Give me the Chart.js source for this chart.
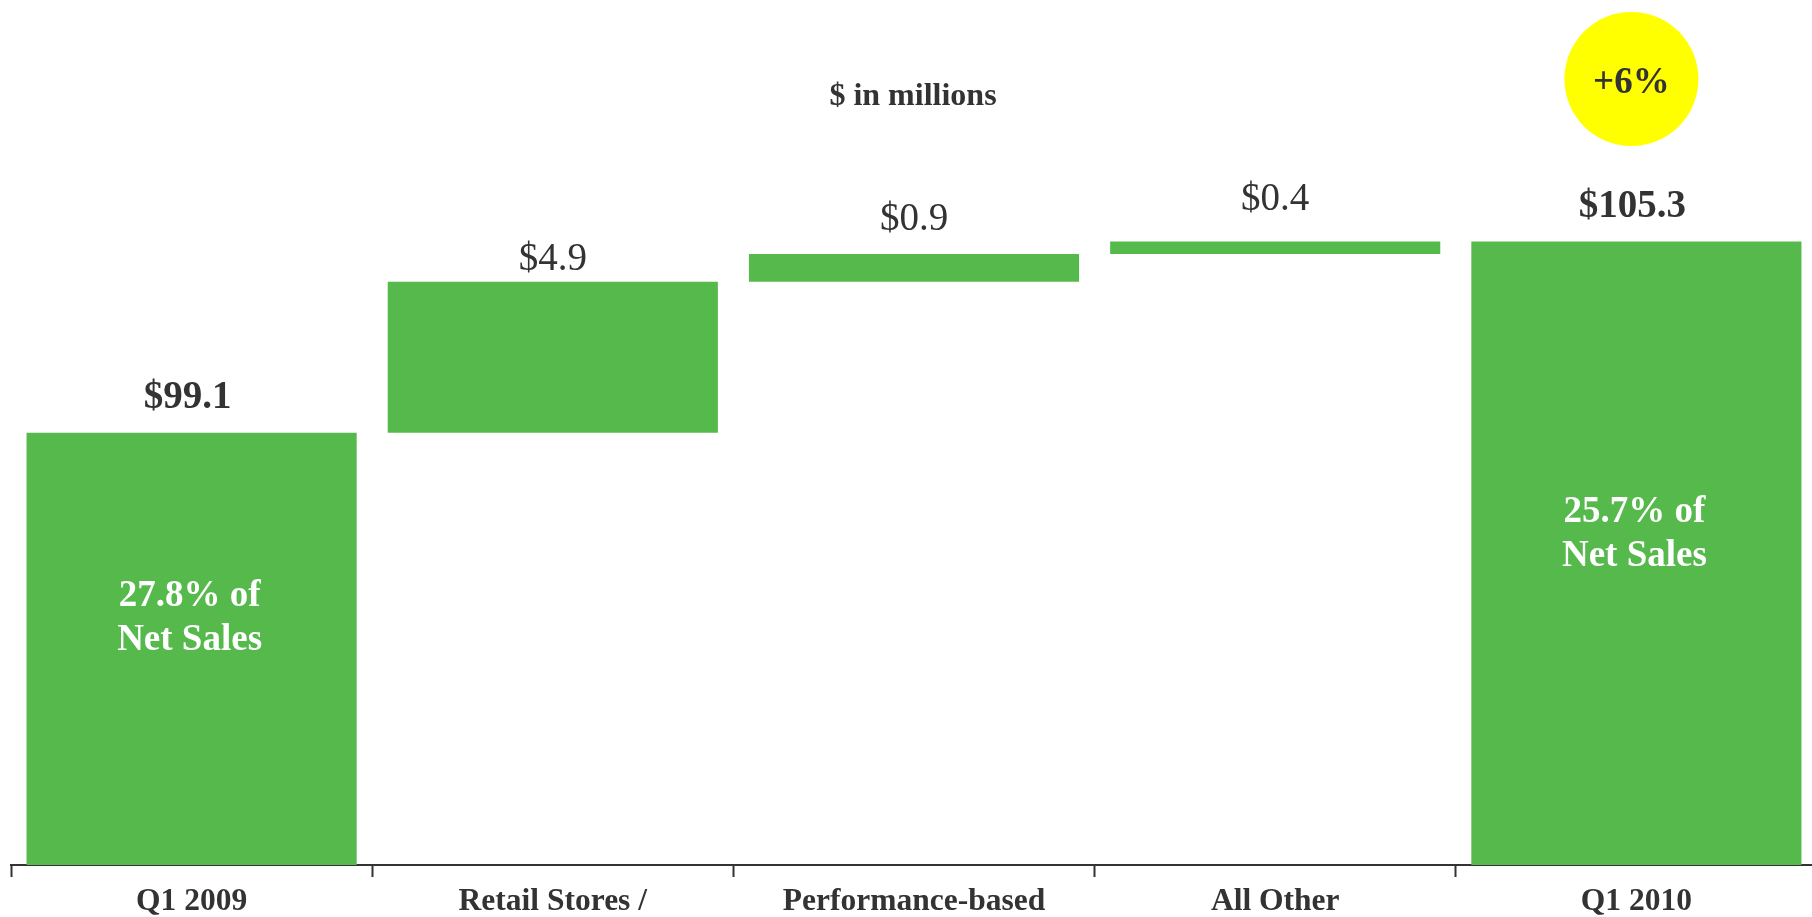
<!DOCTYPE html>
<html lang="en">
<head>
  <meta charset="UTF-8">
  <title>Net Sales Bridge</title>
  <script src="https://cdn.jsdelivr.net/npm/chart.js"></script>
  <style>
    body {
      margin: 0;
      background: #fff;
      overflow: hidden;
    }
    .chart-wrap {
      position: absolute;
      left: 0;
      top: 0;
      width: 1818px;
      height: 917px;
    }
  </style>
</head>
<body>
  <div class="chart-wrap">
    <canvas id="bridgeChart"></canvas>
  </div>

  <script>
    // Chart data
    const categories = ['Q1 2009', 'Retail Stores /', 'Performance-based', 'All Other', 'Q1 2010'];
    const barValues = [99.1, 4.9, 0.9, 0.4, 105.3];
    const barKinds = ['total', 'step', 'step', 'step', 'total'];
    const shareOfSales = [27.8, null, null, null, 25.7];
    const growthLabel = '+6%';
    const unitsLabel = '$ in millions';

    // y axis is cut, it does not start at zero
    const yMin = 85.07;
    const yMax = 113.14;

    const green = '#56b94b';
    const ink = '#333333';
    const serif = "'Liberation Serif', 'Times New Roman', serif";

    // floating bars: totals start at the axis floor, steps start at the running sum
    let running = 0;
    const floating = barValues.map((v, i) => {
      if (barKinds[i] === 'total') {
        running = v;
        return [yMin, v];
      }
      const from = running;
      running = running + v;
      return [from, running];
    });

    const labelsPlugin = {
      id: 'bridgeLabels',
      afterDatasetsDraw(chart, args, opts) {
        const ctx = chart.ctx;
        const meta = chart.getDatasetMeta(0);
        ctx.save();
        ctx.textAlign = 'center';

        // units title
        ctx.fillStyle = ink;
        ctx.font = 'bold 32px ' + serif;
        ctx.textBaseline = 'middle';
        ctx.fillText(unitsLabel, 913, 97);

        // growth bubble over the last bar
        const last = meta.data[meta.data.length - 1];
        ctx.beginPath();
        ctx.arc(last.x - 5, 79, 67, 0, Math.PI * 2);
        ctx.fillStyle = '#ffff00';
        ctx.fill();
        ctx.fillStyle = ink;
        ctx.font = 'bold 37px ' + serif;
        ctx.fillText(growthLabel, last.x - 5, 83);

        ctx.textBaseline = 'alphabetic';
        meta.data.forEach((bar, i) => {
          const top = Math.min(bar.y, bar.base);
          const isTotal = barKinds[i] === 'total';
          ctx.fillStyle = ink;
          ctx.font = (isTotal ? 'bold ' : '') + '39px ' + serif;
          ctx.fillText('$' + barValues[i].toFixed(1), bar.x - (isTotal ? 4 : 0), top - opts.valueGap[i]);

          if (shareOfSales[i] !== null) {
            ctx.fillStyle = '#ffffff';
            ctx.font = 'bold 37px ' + serif;
            const y1 = top + opts.shareOffset[i];
            ctx.fillText(shareOfSales[i].toFixed(1) + '% of', bar.x - 2, y1);
            ctx.fillText('Net Sales', bar.x - 2, y1 + 44);
          }
        });
        ctx.restore();
      }
    };

    new Chart(document.getElementById('bridgeChart'), {
      type: 'bar',
      data: {
        labels: categories,
        datasets: [{
          data: floating,
          backgroundColor: green,
          borderWidth: 0,
          categoryPercentage: 1.0,
          barPercentage: 0.914
        }]
      },
      options: {
        responsive: true,
        maintainAspectRatio: false,
        animation: false,
        layout: {
          padding: { left: 11, right: 1, top: 0, bottom: 0 }
        },
        plugins: {
          legend: { display: false },
          tooltip: { enabled: false },
          title: { display: false },
          bridgeLabels: {
            valueGap: [25, 12, 24, 32, 25],
            shareOffset: [173, 0, 0, 0, 280]
          }
        },
        scales: {
          x: {
            afterFit: (scale) => { scale.height = 52; },
            grid: {
              offset: true,
              drawOnChartArea: false,
              drawTicks: true,
              tickLength: 12,
              tickColor: ink,
              tickWidth: 2
            },
            border: {
              display: true,
              color: ink,
              width: 2
            },
            ticks: {
              color: ink,
              padding: 6,
              font: { family: serif, size: 31.5, weight: 'bold' }
            }
          },
          y: {
            display: false,
            min: yMin,
            max: yMax
          }
        }
      },
      plugins: [labelsPlugin]
    });
  </script>
</body>
</html>
